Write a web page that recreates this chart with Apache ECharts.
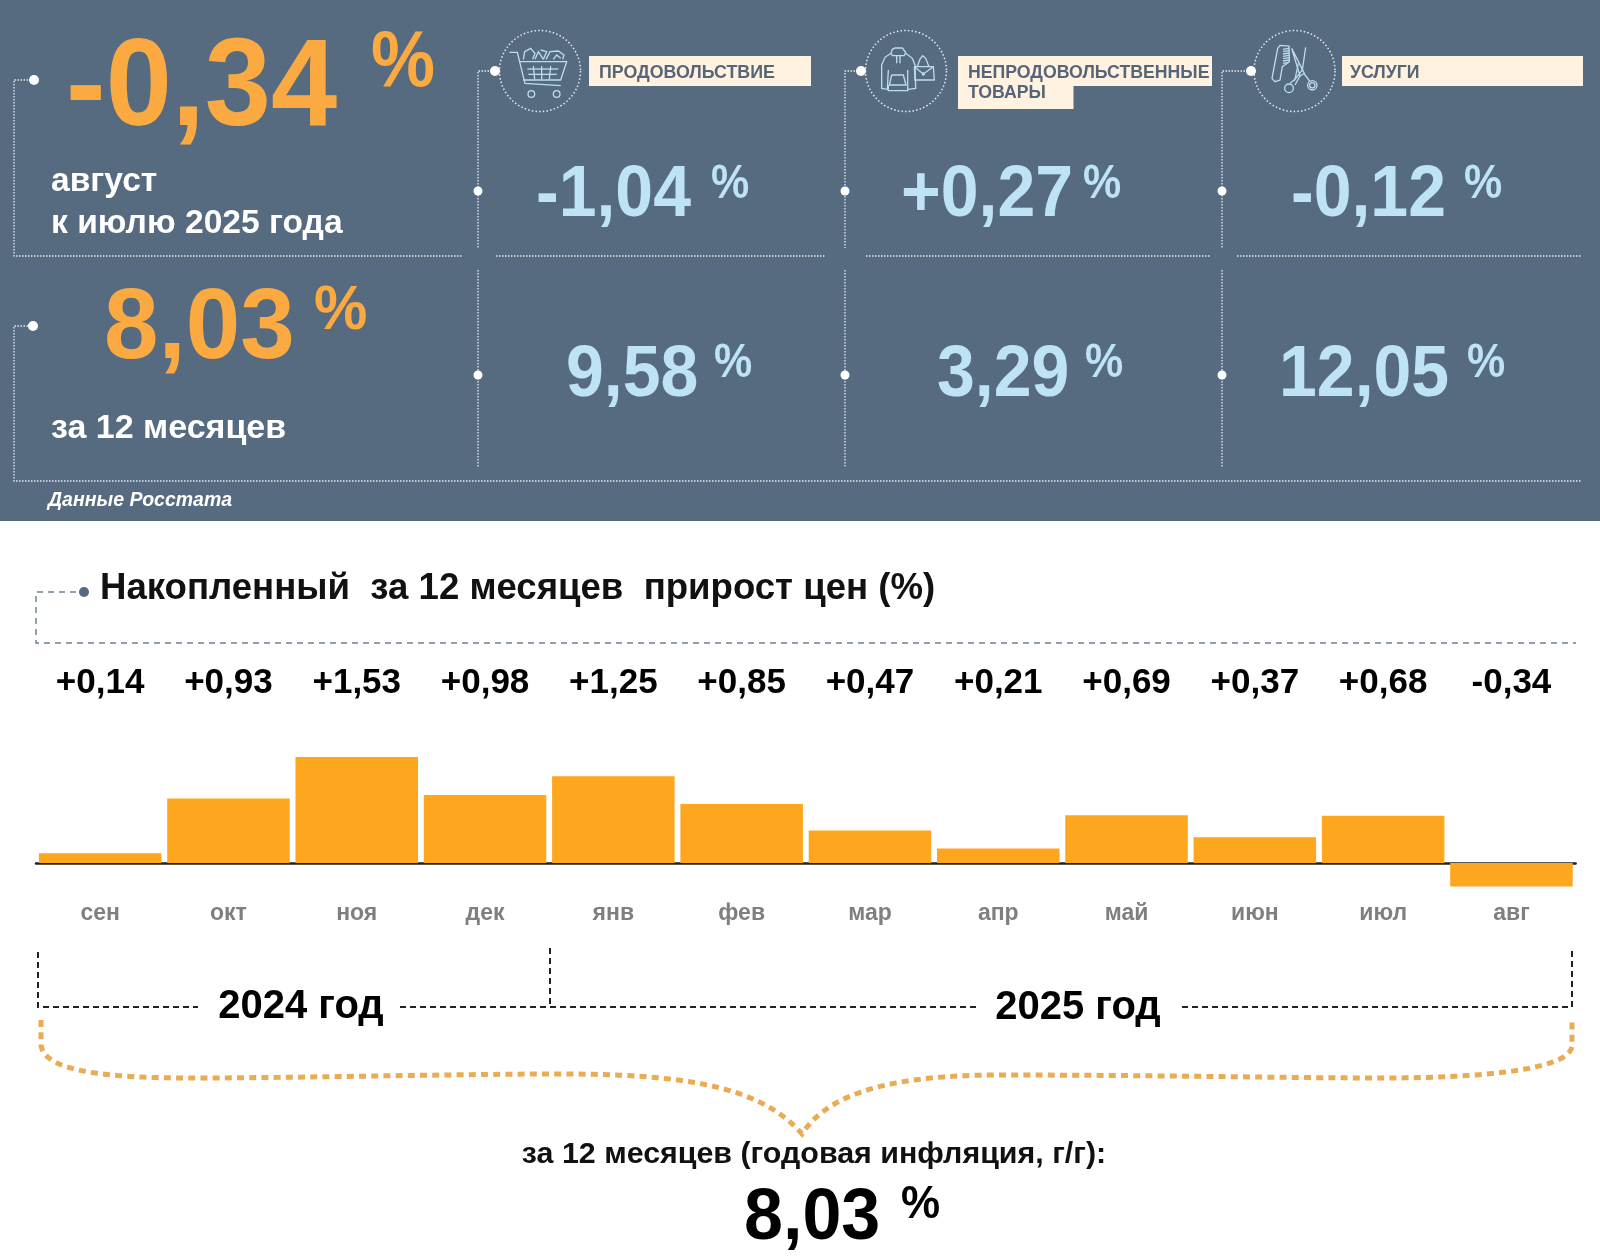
<!DOCTYPE html>
<html><head><meta charset="utf-8">
<style>html,body{margin:0;padding:0;background:#fff}#c{width:1600px;height:1259px}</style>
<script src="https://cdn.jsdelivr.net/npm/echarts@6/dist/echarts.min.js"></script>
</head><body><div id="c"></div>
<script>
const months = ['сен','окт','ноя','дек','янв','фев','мар','апр','май','июн','июл','авг'];
const monthlyValues = [0.14,0.93,1.53,0.98,1.25,0.85,0.47,0.21,0.69,0.37,0.68,-0.34];
const monthlyLabels = ['+0,14','+0,93','+1,53','+0,98','+1,25','+0,85','+0,47','+0,21','+0,69','+0,37','+0,68','-0,34'];
const chartTitle = 'Накопленный  за 12 месяцев  прирост цен (%)';
const mainMonth = '-0,34', mainYear = '8,03';
const groupNames = ['ПРОДОВОЛЬСТВИЕ','НЕПРОДОВОЛЬСТВЕННЫЕ','УСЛУГИ'];
const groupMonth = ['-1,04','+0,27','-0,12'];
const groupYear = ['9,58','3,29','12,05'];

const FF = '"Liberation Sans", Arial, sans-serif';
const ORANGE='#FBA941', BLUE='#BEE3F5', PANEL='#566B80', DOT='#E6ECF0', ICON='#BCDDEC';
const els = [];
function T(text,x,y,size,fill,o){ o=o||{};
  els.push({type:'text',x:x,y:y,scaleY:o.sy||1,silent:true,style:{text:text,fill:fill,
    font:(o.italic?'italic ':'')+(o.weight||'bold')+' '+size+'px '+FF,
    textAlign:o.align||'left',textVerticalAlign:'middle',verticalAlign:'middle'},z:5});
}
function L(pts,stroke,w,dash,z){ els.push({type:'polyline',silent:true,z:z||3,shape:{points:pts},
  style:{stroke:stroke,lineWidth:w,lineDash:dash||null,fill:null}}); }
function Dot(x,y,r,fill){ els.push({type:'circle',silent:true,z:4,shape:{cx:x,cy:y,r:r||5},style:{fill:fill||'#fff'}}); }
function Rect(x,y,w,h,fill,z){ els.push({type:'rect',silent:true,z:z||1,shape:{x:x,y:y,width:w,height:h},style:{fill:fill}}); }

// panel
Rect(0,0,1600,521,PANEL,0);
const dd=[1.5,1.5];
L([[34,80],[14,80],[14,256],[463,256]],DOT,1.3,dd);
L([[34,326],[14,326],[14,481],[1582,481]],DOT,1.3,dd);
[[478,495],[845,861],[1222,1251]].forEach(function(a){
  L([[a[1],71],[a[0],71],[a[0],248]],DOT,1.3,dd);
  L([[a[0],270],[a[0],467]],DOT,1.3,dd);
  Dot(a[1],71,5); Dot(a[0],191,4.5); Dot(a[0],375,4.5);
});
Dot(34,80,5); Dot(33,326,5);
L([[496,256],[825,256]],DOT,1.3,dd);
L([[866,256],[1211,256]],DOT,1.3,dd);
L([[1237,256],[1582,256]],DOT,1.3,dd);

// circles
[540,906,1294.5].forEach(function(cx){
  els.push({type:'circle',silent:true,z:3,shape:{cx:cx,cy:71,r:40.5},style:{fill:null,stroke:DOT,lineWidth:1.5,lineDash:[1.5,2.2]}});
});
// icons (coordinates in 3x crop space)
function Icon(ox,oy,lines,rings,smooth){
  lines.forEach(function(p){
    els.push({type:'polyline',silent:true,z:3,shape:{points:p.map(function(q){return [ox+q[0]/3,oy+q[1]/3];})},
      style:{stroke:ICON,lineWidth:1.3,fill:null}});
  });
  (rings||[]).forEach(function(r){
    els.push({type:'circle',silent:true,z:3,shape:{cx:ox+r[0]/3,cy:oy+r[1]/3,r:r[2]/3},style:{stroke:ICON,lineWidth:1.3,fill:null}});
  });
}
Icon(490,20,[
 [[58,97],[82,97],[105,190],[212,197]],
 [[88,125],[230,125],[212,180],[100,180]],
 [[112,147],[205,147]],[[115,163],[200,163]],
 [[130,138],[134,178]],[[155,138],[155,178]],[[182,138],[178,178]],
 [[100,118],[104,95],[122,85],[135,100],[128,118]],
 [[135,118],[145,95],[160,118]],[[152,90],[170,95],[160,118]],
 [[168,118],[180,95],[205,93],[222,105],[218,118]],[[190,118],[200,105],[212,115]]
],[[124,222,10],[200,222,10]]);
Icon(855,20,[
 [[108,100],[112,88],[120,84],[142,84],[152,97],[148,107],[112,107],[108,100]],
 [[108,100],[90,112],[80,135],[80,205],[97,208],[100,150]],
 [[100,195],[100,212],[158,212],[158,150]],
 [[152,100],[172,115],[180,135],[182,205],[158,208]],
 [[110,165],[145,165],[153,195],[103,195],[110,165]],
 [[125,107],[125,130]],[[135,107],[135,130]],
 [[187,140],[195,117],[203,107],[212,115],[222,140]],
 [[178,140],[235,140],[238,180],[180,180],[178,140]],
 [[178,140],[205,162],[235,140]]
],[[205,162,3]]);
const teeth=[]; [88,95,102,109,116,123,130].forEach(function(y){teeth.push([[114,y],[132,y-3]]);});
Icon(1245,20,[
 [[98,85],[105,76],[132,78],[133,125],[112,140],[105,180],[90,185],[81,175],[98,85]]
].concat(teeth).concat([
 [[140,85],[178,160],[165,168],[140,85]],
 [[182,82],[172,150],[150,178],[160,130]],
 [[178,162],[195,185]],[[150,178],[135,190]],[[165,168],[150,195]]
]),[[202,196,14],[202,196,8],[132,205,13]]);

// label chips
Rect(589,56,222,30,'#FFF2E0',2);
Rect(958,56,254,30,'#FFF2E0',2); Rect(958,86,115.5,23,'#FFF2E0',2);
Rect(1342,56,241,30,'#FFF2E0',2);
T(groupNames[0],599,73,17.8,'#566577');
T(groupNames[1],968,73,17.7,'#566577');
T('ТОВАРЫ',968,93,17.7,'#566577');
T(groupNames[2],1350,73,17.7,'#566577');

// KPIs
T(mainMonth,66,91,119,ORANGE,{sy:1.04});
T('%',371,64,72,ORANGE,{sy:1.1});
T('август',51,182,33.6,'#fff');
T('к июлю 2025 года',51,224,33.6,'#fff');
T(mainYear,104,330,98,ORANGE,{sy:1.03});
T('%',314,311,60,ORANGE,{sy:1.06});
T('за 12 месяцев',51,429,34,'#fff');
T('Данные Росстата',48,501,19.5,'#fff',{italic:true});
const mx=[536,901,1291], mp=[711,1083,1464];
groupMonth.forEach(function(v,i){ T(v,mx[i],196,68,BLUE,{sy:1.06}); T('%',mp[i],185,43,BLUE,{sy:1.1}); });
const yx=[566,937,1279], yp=[714,1085,1467];
groupYear.forEach(function(v,i){ T(v,yx[i],376,68,BLUE,{sy:1.06}); T('%',yp[i],364,43,BLUE,{sy:1.1}); });

// section title
L([[76,592],[36,592],[36,643],[1576,643]],'#6F8293',1.5,[6,5]);
Dot(84,592,5,PANEL);
T(chartTitle,100,589,36.6,'#111');

// year brackets
const K='#222';
L([[38,952],[38,1007],[198,1007]],K,2,[6,4]);
L([[400,1007],[978,1007]],K,2,[6,4]);
L([[550,948],[550,1007]],K,2,[6,4]);
L([[1182,1007],[1572,1007],[1572,951]],K,2,[6,4]);
T('2024 год',301,1007,40,'#000',{align:'center'});
T('2025 год',1078,1008,40,'#000',{align:'center'});

// brace
function bez(segs){ const pts=[segs[0]];
  for(let i=1;i<segs.length;i++){ const s=segs[i], p=pts[pts.length-1];
    if(s.length===2){pts.push(s);continue;}
    for(let k=1;k<=40;k++){const t=k/40,u=1-t;
      pts.push([u*u*u*p[0]+3*u*u*t*s[0]+3*u*t*t*s[2]+t*t*t*s[4], u*u*u*p[1]+3*u*u*t*s[1]+3*u*t*t*s[3]+t*t*t*s[5]]);}
  } return pts; }
L(bez([[41,1020],[41,1045],[44,1068,90,1078,190,1078],[300,1078,450,1074,560,1074],[680,1074,760,1085,802,1134],
  [830,1090,900,1075,1000,1075],[1150,1075,1290,1078,1383,1078],[1480,1078,1572,1070,1572,1045],[1572,1020]]),'#EAAB55',5,[7,5.2]);

T('за 12 месяцев (годовая инфляция, г/г):',814,1155,30.4,'#111',{align:'center'});
T(mainYear,744,1219,70,'#000',{sy:1.04});
T('%',901,1205,44,'#000',{sy:1.06});

// chart scale: 69.3 px per unit, zero line at y=863
const option = {
  animation:false,
  backgroundColor:'#fff',
  grid:{left:36,width:1539.6,top:752.1,height:138.6,containLabel:false},
  xAxis:[
    {type:'category',data:months,position:'bottom',
     axisLine:{onZero:true,lineStyle:{color:'#222',width:2.5}},axisTick:{show:false},
     axisLabel:{margin:11,fontFamily:FF,fontWeight:'bold',fontSize:23,color:'#7F7F7F',interval:0}},
    {type:'category',data:monthlyLabels,position:'top',
     axisLine:{show:false,onZero:false},axisTick:{show:false},
     axisLabel:{margin:51.5,fontFamily:FF,fontWeight:'bold',fontSize:35,color:'#000',interval:0}}
  ],
  yAxis:{type:'value',min:-0.4,max:1.6,show:false,splitLine:{show:false}},
  series:[{type:'bar',xAxisIndex:0,data:monthlyValues,barWidth:122.5,itemStyle:{color:'#FDA61E'},silent:true}],
  graphic:{elements:els}
};
echarts.init(document.getElementById('c'),null,{renderer:'canvas'}).setOption(option);
</script></body></html>
